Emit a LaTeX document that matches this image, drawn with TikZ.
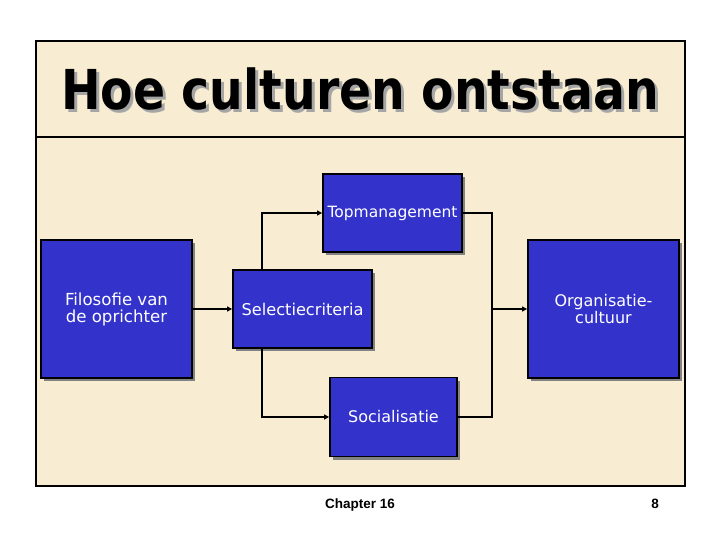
\documentclass[tikz,border=0pt]{standalone}
\usepackage{fontspec}
\setmainfont{DejaVu Sans}
\newfontfamily\footfont{Liberation Sans}
\usetikzlibrary{arrows.meta}
\definecolor{parch}{RGB}{248,237,210}
\definecolor{boxblue}{RGB}{51,51,204}
\definecolor{shad}{RGB}{130,130,130}
\definecolor{tshad}{RGB}{165,165,165}
\tikzset{
  bluebox/.style={draw=black, line width=1.8pt, fill=boxblue, text=white, inner sep=0pt, align=center,
    preaction={fill=shad, transform canvas={xshift=3pt,yshift=-3pt}}},
  conn/.style={draw=black, line width=1.6pt},
  arr/.style={-{Triangle[length=5pt,width=5pt]}}
}
\newcommand{\titletext}{\scalebox{0.86}[1]{\fontsize{55}{60}\selectfont\bfseries Hoe culturen ontstaan}}
\begin{document}
\begin{tikzpicture}[x=1pt,y=-1pt]
\useasboundingbox (0,0) rectangle (720,540);
\fill[white] (0,0) rectangle (720,540);
\fill[parch] (36,41) rectangle (685,486);
\draw[line width=1.8pt] (36,41) rectangle (685,486);
\draw[line width=1.8pt] (36,137) -- (685,137);
% title with shadow
\node[anchor=base, text=black, inner sep=0pt] (title) at (360,110)
  {\makebox[0pt][l]{\hspace{3pt}\raisebox{-3pt}{\color{tshad}\titletext}}\titletext};
% boxes
\node[bluebox, minimum width=151pt, minimum height=138pt, font=\fontsize{16.6}{17}\selectfont] (filo) at (116.5,309) {Filosofie van\\ de oprichter};
\node[bluebox, minimum width=139pt, minimum height=78pt, font=\fontsize{16.2}{16}\selectfont] (sel) at (302.5,309) {Selectiecriteria};
\node[bluebox, minimum width=139pt, minimum height=78pt, font=\fontsize{15.5}{16}\selectfont] (top) at (392.5,213) {Topmanagement};
\node[bluebox, minimum width=127pt, minimum height=79pt, font=\fontsize{16}{16}\selectfont] (soc) at (393.5,417) {Socialisatie};
\node[bluebox, minimum width=151pt, minimum height=138pt, font=\fontsize{16}{17}\selectfont] (org) at (603.5,309) {Organisatie-\\cultuur};
% connectors
\draw[conn,arr] (filo.east) -- (sel.west);
\draw[conn,arr] ([xshift=30pt]sel.north west) |- (top.west);
\draw[conn,arr] ([xshift=30pt]sel.south west) |- (soc.west);
\coordinate (rx) at (492,309);
\draw[conn] (top.east) -| (rx |- soc.east) -- (soc.east);
\draw[conn,arr] (rx |- org.west) -- (org.west);
% footer
\node[anchor=base, inner sep=0pt, font=\footfont\fontsize{13.5}{14}\selectfont\bfseries] (chap) at (360,508) {Chapter 16};
\node[anchor=base, inner sep=0pt, font=\footfont\fontsize{13.5}{14}\selectfont\bfseries] (page) at (655,508) {8};
\end{tikzpicture}
\end{document}
